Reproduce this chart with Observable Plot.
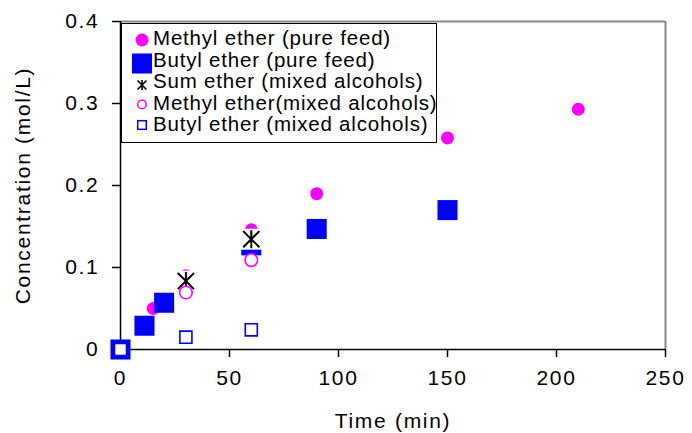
<!DOCTYPE html>
<html>
<head>
<meta charset="utf-8">
<script src="https://cdn.jsdelivr.net/npm/d3@7"></script>
<script src="https://cdn.jsdelivr.net/npm/@observablehq/plot@0.6"></script>
<style>
  html, body { margin: 0; padding: 0; background: #fff; }
  #wrap { position: relative; width: 692px; height: 433px; font-family: "Liberation Sans", Arial, sans-serif; }
  #legend { position: absolute; left: 121px; top: 23px; width: 316px; height: 120px; box-sizing: border-box; border: 1px solid #000; background: #fff; }
</style>
</head>
<body>
<div id="wrap"></div>
<script>
// Data
const methylPureTime = [0, 15, 30, 60, 90, 150, 210];
const methylPureConc = [0, 0.050, 0.090, 0.146, 0.190, 0.258, 0.293];

const butylPureTime = [0, 11, 20, 60, 90, 150];
const butylPureConc = [0, 0.029, 0.057, 0.127, 0.147, 0.170];

const sumMixTime = [30, 60];
const sumMixConc = [0.0835, 0.1345];

const methylMixTime = [30, 60];
const methylMixConc = [0.0695, 0.109];

const butylMixTime = [0, 30, 60];
const butylMixConc = [0, 0.015, 0.024];

const xTicks = [0, 50, 100, 150, 200, 250];
const yTicks = [0, 0.1, 0.2, 0.3, 0.4];

const seriesNames = [
  "Methyl ether (pure feed)",
  "Butyl ether (pure feed)",
  "Sum ether (mixed alcohols)",
  "Methyl ether(mixed alcohols)",
  "Butyl ether (mixed alcohols)"
];

const toRows = (ts, cs) => ts.map((t, i) => ({t, c: cs[i]}));
const methylPure = toRows(methylPureTime, methylPureConc);
const butylPure = toRows(butylPureTime, butylPureConc);
const sumMix = toRows(sumMixTime, sumMixConc);
const methylMix = toRows(methylMixTime, methylMixConc);
const butylMix = toRows(butylMixTime, butylMixConc);

const MAG = "#ff00ff", BLU = "#0000ff";

const star = {
  draw(ctx, size) {
    const s = Math.sqrt(size / Math.PI);
    const d = s * 0.9;
    ctx.moveTo(0, -s); ctx.lineTo(0, s);
    ctx.moveTo(-d, -d); ctx.lineTo(d, d);
    ctx.moveTo(-d, d); ctx.lineTo(d, -d);
  }
};

const FONT = "Liberation Sans, Arial, sans-serif";
const FS = 21;

const chart = Plot.plot({
  width: 692,
  height: 433,
  marginLeft: 120,
  marginRight: 27,
  marginTop: 21,
  marginBottom: 84,
  style: {fontFamily: FONT, background: "#fff", overflow: "visible"},
  x: {domain: [0, 250]},
  y: {domain: [0, 0.4]},
  marks: [
    Plot.ruleY([0.4], {stroke: "#888", strokeWidth: 2}),
    Plot.ruleX([250], {stroke: "#888", strokeWidth: 2}),
    Plot.axisX({ticks: xTicks, tickSize: 8, tickPadding: 13, label: null, fontSize: FS, tickFormat: d => String(d), stroke: "#000", strokeWidth: 1.5}),
    Plot.axisY({ticks: yTicks, tickSize: 8, tickPadding: 13, label: null, fontSize: FS, tickFormat: d => d === 0 ? "0" : d.toFixed(1), stroke: "#000", strokeWidth: 1.5}),
    Plot.ruleX([0], {stroke: "#000", strokeWidth: 1.5}),
    Plot.ruleY([0], {stroke: "#000", strokeWidth: 1.5}),
    Plot.text(["Time (min)"], {frameAnchor: "bottom", lineAnchor: "middle", textAnchor: "middle", dy: 72, fontSize: FS, fill: "#000"}),
    Plot.text(["Concentration (mol/L)"], {frameAnchor: "left", lineAnchor: "middle", textAnchor: "middle", dx: -97, rotate: -90, fontSize: FS, fill: "#000"}),
    // Methyl ether (pure feed)
    Plot.dot(methylPure, {x: "t", y: "c", r: 6.5, fill: MAG, stroke: "none"}),
    // Butyl ether (pure feed)
    Plot.dot(butylPure, {x: "t", y: "c", symbol: "square", r: 11.3, fill: BLU, stroke: "none"}),
    // Sum ether (mixed alcohols)
    Plot.dot(sumMix, {x: "t", y: "c", symbol: "square", r: 11.85, fill: "#fff", stroke: "none"}),
    Plot.dot(sumMix, {x: "t", y: "c", symbol: star, r: 9, fill: "none", stroke: "#000", strokeWidth: 2}),
    // Methyl ether (mixed alcohols)
    Plot.dot(methylMix, {x: "t", y: "c", r: 6.3, fill: "#fff", stroke: MAG, strokeWidth: 1.6}),
    // Butyl ether (mixed alcohols)
    Plot.dot(butylMix, {x: "t", y: "c", symbol: "square", r: 6.8, fill: "#fff", stroke: BLU, strokeWidth: 1.6})
  ]
});

chart.querySelectorAll("text").forEach(t => t.setAttribute("letter-spacing", "1.7px"));

const wrap = document.getElementById("wrap");
wrap.appendChild(chart);

// Legend
const legend = document.createElement("div");
legend.id = "legend";
const NS = "http://www.w3.org/2000/svg";
const lsvg = document.createElementNS(NS, "svg");
lsvg.setAttribute("width", 314);
lsvg.setAttribute("height", 118);
lsvg.style.position = "absolute";
lsvg.style.left = "0";
lsvg.style.top = "0";
const rowY = [16, 39.5, 61, 80.5, 101];
const baseY = [21, 42.5, 64, 85.5, 107];
const sx = 20;
function el(tag, attrs) { const e = document.createElementNS(NS, tag); for (const k in attrs) e.setAttribute(k, attrs[k]); lsvg.appendChild(e); return e; }
el("circle", {cx: sx, cy: rowY[0], r: 6.5, fill: MAG});
el("rect", {x: sx - 10, y: rowY[1] - 10, width: 20, height: 20, fill: BLU});
el("path", {d: `M${sx},${rowY[2]-5}V${rowY[2]+5}M${sx-4.5},${rowY[2]-4.5}L${sx+4.5},${rowY[2]+4.5}M${sx-4.5},${rowY[2]+4.5}L${sx+4.5},${rowY[2]-4.5}`, stroke: "#000", "stroke-width": 1.6, fill: "none"});
el("circle", {cx: sx, cy: rowY[3], r: 4.3, fill: "#fff", stroke: MAG, "stroke-width": 1.5});
el("rect", {x: sx - 4.3, y: rowY[4] - 4.3, width: 8.6, height: 8.6, fill: "#fff", stroke: BLU, "stroke-width": 1.5});
seriesNames.forEach((name, i) => {
  const t = el("text", {x: 31, y: baseY[i], "font-size": 20.5, "letter-spacing": "0.8px", "font-family": FONT, fill: "#000"});
  t.textContent = name;
});
legend.appendChild(lsvg);
wrap.appendChild(legend);
</script>
</body>
</html>
